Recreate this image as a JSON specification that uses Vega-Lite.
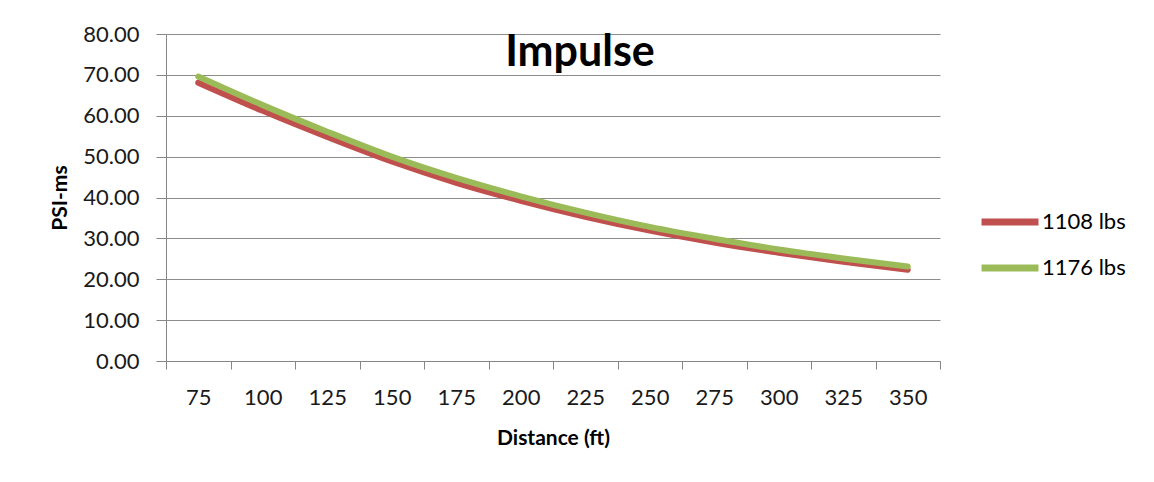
{
  "$schema": "https://vega.github.io/schema/vega-lite/v6.json",
  "autosize": {"type": "none"},
  "padding": {"left": 166, "top": 34, "right": 214, "bottom": 121},
  "width": 774,
  "height": 327,
  "background": "white",
  "title": {
    "text": "Impulse",
    "font": "Lato",
    "fontSize": 43,
    "fontWeight": "bold",
    "color": "#000000",
    "anchor": "middle",
    "frame": "group",
    "baseline": "alphabetic",
    "dx": 27,
    "dy": 42,
    "offset": -44
  },
  "data": {
    "values": [
      {"distance": 75, "psims": 68.1, "series": "1108 lbs"},
      {"distance": 100, "psims": 61.2, "series": "1108 lbs"},
      {"distance": 125, "psims": 54.8, "series": "1108 lbs"},
      {"distance": 150, "psims": 48.8, "series": "1108 lbs"},
      {"distance": 175, "psims": 43.6, "series": "1108 lbs"},
      {"distance": 200, "psims": 39.2, "series": "1108 lbs"},
      {"distance": 225, "psims": 35.3, "series": "1108 lbs"},
      {"distance": 250, "psims": 31.9, "series": "1108 lbs"},
      {"distance": 275, "psims": 29.0, "series": "1108 lbs"},
      {"distance": 300, "psims": 26.5, "series": "1108 lbs"},
      {"distance": 325, "psims": 24.3, "series": "1108 lbs"},
      {"distance": 350, "psims": 22.3, "series": "1108 lbs"},
      {"distance": 75, "psims": 69.6, "series": "1176 lbs"},
      {"distance": 100, "psims": 62.6, "series": "1176 lbs"},
      {"distance": 125, "psims": 56.1, "series": "1176 lbs"},
      {"distance": 150, "psims": 50.0, "series": "1176 lbs"},
      {"distance": 175, "psims": 44.8, "series": "1176 lbs"},
      {"distance": 200, "psims": 40.3, "series": "1176 lbs"},
      {"distance": 225, "psims": 36.3, "series": "1176 lbs"},
      {"distance": 250, "psims": 32.8, "series": "1176 lbs"},
      {"distance": 275, "psims": 29.9, "series": "1176 lbs"},
      {"distance": 300, "psims": 27.3, "series": "1176 lbs"},
      {"distance": 325, "psims": 25.1, "series": "1176 lbs"},
      {"distance": 350, "psims": 23.1, "series": "1176 lbs"}
    ]
  },
  "mark": {"type": "line", "interpolate": "monotone", "strokeWidth": 6, "strokeCap": "round", "strokeJoin": "round"},
  "encoding": {
    "x": {
      "field": "distance",
      "type": "quantitative",
      "scale": {"domain": [62.5, 362.5], "nice": false, "zero": false},
      "axis": {
        "title": "Distance (ft)",
        "values": [62.5, 87.5, 112.5, 137.5, 162.5, 187.5, 212.5, 237.5, 262.5, 287.5, 312.5, 337.5, 362.5],
        "labelExpr": "datum.value > 350 ? '' : format(datum.value + 12.5, 'd')",
        "labelOffset": 32.25,
        "labelFlush": false,
        "labelOverlap": false,
        "labelBound": false,
        "labelFont": "Lato",
        "labelFontSize": 22,
        "labelColor": "#1a1a1a",
        "labelPadding": 18,
        "tickSize": 8,
        "tickColor": "#868686",
        "domainColor": "#868686",
        "grid": false,
        "titleFont": "Lato",
        "titleFontSize": 21,
        "titleFontWeight": "bold",
        "titleColor": "#000000",
        "titlePadding": 19
      }
    },
    "y": {
      "field": "psims",
      "type": "quantitative",
      "scale": {"domain": [0, 80], "nice": false},
      "axis": {
        "title": "PSI-ms",
        "values": [0, 10, 20, 30, 40, 50, 60, 70, 80],
        "format": ".2f",
        "labelFont": "Lato",
        "labelFontSize": 22,
        "labelColor": "#1a1a1a",
        "labelPadding": 17,
        "tickSize": 10,
        "tickColor": "#868686",
        "domainColor": "#868686",
        "grid": true,
        "gridColor": "#8c8c8c",
        "gridWidth": 1,
        "titleFont": "Lato",
        "titleFontSize": 21,
        "titleFontWeight": "bold",
        "titleColor": "#000000",
        "titlePadding": 12
      }
    },
    "color": {
      "field": "series",
      "type": "nominal",
      "scale": {"domain": ["1108 lbs", "1176 lbs"], "range": ["#C0504D", "#9BBB59"]},
      "legend": {
        "title": null,
        "orient": "none",
        "legendX": 812,
        "legendY": 156,
        "symbolType": "stroke",
        "symbolSize": 3249,
        "symbolStrokeWidth": 7,
        "labelFont": "Lato",
        "labelFontSize": 22,
        "labelColor": "#000000",
        "labelOffset": 0,
        "rowPadding": -16
      }
    }
  },
  "config": {
    "view": {"stroke": null}
  }
}
